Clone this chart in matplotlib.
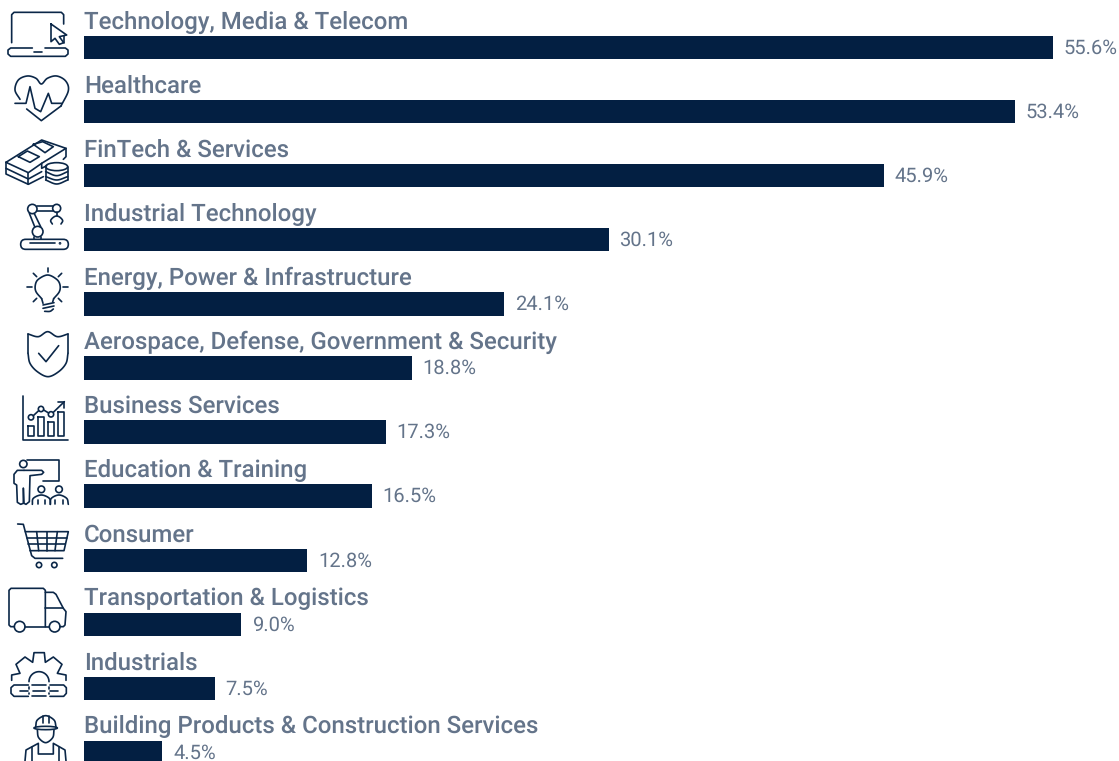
import numpy as np
import matplotlib
matplotlib.use("Agg")
import matplotlib.pyplot as plt
from matplotlib.patches import Circle, Ellipse, FancyBboxPatch

categories = ["Technology, Media & Telecom", "Healthcare", "FinTech & Services", "Industrial Technology",
              "Energy, Power & Infrastructure", "Aerospace, Defense, Government & Security", "Business Services",
              "Education & Training", "Consumer", "Transportation & Logistics", "Industrials",
              "Building Products & Construction Services"]
values = [55.6, 53.4, 45.9, 30.1, 24.1, 18.8, 17.3, 16.5, 12.8, 9.0, 7.5, 4.5]

plt.rcParams["text.hinting"] = "no_hinting"

W, H = 1119, 761
NAVY = "#031f42"
ICON = "#0b2748"
GREY = "#64748a"
FONT = "Roboto"

fig = plt.figure(figsize=(W / 100, H / 100), dpi=100, facecolor="white")
ax = fig.add_axes([0, 0, 1, 1])
ppu = 17.43
row = 64.09
y0 = 47.5
ax.set_xlim(-84 / ppu, (W - 84) / ppu)
ax.set_ylim((H - y0) / row, -y0 / row)
ax.axis("off")

ypos = np.arange(len(values))
ax.barh(ypos, values, height=23.3 / row, color=NAVY, linewidth=0)
for y, v, c in zip(ypos, values, categories):
    ax.text(0, y - 25.5 / row, c, fontsize=17.25, color=GREY, family=FONT, fontweight="medium", va="center", ha="left")
    ax.annotate(f"{v:.1f}%", (v, y), xytext=(7.8, -0.5), textcoords="offset points", fontsize=14.5, color=GREY,
                family=FONT, va="center", ha="left", annotation_clip=False)

# Decorative icons, drawn on an overlay in reference pixel coordinates
ov = fig.add_axes([0, 0, 1, 1], facecolor="none")
ov.set_xlim(0, W)
ov.set_ylim(H, 0)
ov.axis("off")
LW = 1.2


def smooth(p, n=12):
    p = np.array(p, float)
    q = np.vstack([2 * p[0] - p[1], p, 2 * p[-1] - p[-2]])
    out = []
    for i in range(1, len(q) - 2):
        for t in np.linspace(0, 1, n, endpoint=False):
            a, b, c, d = q[i - 1], q[i], q[i + 1], q[i + 2]
            out.append(0.5 * (2 * b + (c - a) * t + (2 * a - 5 * b + 4 * c - d) * t ** 2 + (3 * b - a - 3 * c + d) * t ** 3))
    out.append(p[-1])
    return np.array(out)


class Z:
    def __init__(self, oy):
        self.oy = oy

    def xy(self, p):
        p = np.array(p, float) / 3
        p[..., 1] += self.oy
        return p

    def l(self, *pts):
        p = self.xy(pts)
        ov.plot(p[:, 0], p[:, 1], color=ICON, lw=LW, solid_capstyle="round", solid_joinstyle="round", clip_on=False)

    def s(self, *pts):
        p = smooth(self.xy(pts))
        ov.plot(p[:, 0], p[:, 1], color=ICON, lw=LW, solid_capstyle="round", clip_on=False)

    def c(self, x, y, r):
        p = self.xy([x, y])
        ov.add_patch(Circle(p, r / 3, fill=False, ec=ICON, lw=LW, clip_on=False))

    def e(self, x, y, w, h):
        p = self.xy([x, y])
        ov.add_patch(Ellipse(p, w / 3, h / 3, fill=False, ec=ICON, lw=LW, clip_on=False))

    def arc(self, x, y, r, a0, a1):
        t = np.radians(np.linspace(a0, a1, 30))
        p = self.xy(np.c_[x + r * np.cos(t), y - r * np.sin(t)])
        ov.plot(p[:, 0], p[:, 1], color=ICON, lw=LW, solid_capstyle="round", clip_on=False)

    def pill(self, x0, y0, x1, y1, r):
        a = self.xy([x0 + r, y0 + r])
        b = self.xy([x1 - r, y1 - r])
        ov.add_patch(FancyBboxPatch(a, b[0] - a[0], b[1] - a[1], boxstyle=f"round,pad={r / 3}", fill=False,
                                    ec=ICON, lw=LW, clip_on=False))


# Laptop
z = Z(0)
z.l((35, 128), (35, 44), (42, 37), (184, 37), (191, 44), (191, 72))
z.l((191, 108), (191, 128))
z.l((97, 144), (32, 144), (24, 150), (24, 162), (32, 169), (196, 169), (204, 162), (204, 150), (196, 144), (135, 144))
z.l((102, 155), (126, 155))
z.l((153, 72), (200, 105), (178, 110), (191, 128), (178, 133), (165, 115), (153, 125), (153, 72))

# Heart
z.s((60, 298), (45, 270), (55, 240), (82, 228), (108, 235), (124, 252), (142, 235), (170, 228), (197, 243), (205, 272), (183, 318))
z.l((183, 318), (124, 362), (80, 327))
z.l((45, 310), (78, 310), (90, 260), (105, 325), (122, 335), (145, 280), (155, 310), (185, 310))

# Money stack
z.l((18, 487), (125, 420), (198, 445), (125, 490), (85, 518), (18, 487))
z.l((55, 470), (82, 453), (118, 470), (90, 487), (55, 470))
z.l((100, 433), (128, 425), (160, 440), (135, 458), (100, 433))
z.l((18, 487), (18, 505), (85, 537), (125, 515))
z.l((18, 505), (18, 522), (85, 553), (130, 530))
z.l((85, 518), (85, 553))
z.l((125, 490), (125, 505), (140, 497))
z.l((198, 445), (198, 470), (190, 478))
z.e(170, 500, 66, 24)
z.l((137, 500), (137, 540))
z.l((203, 500), (203, 540))
z.s((137, 515), (170, 527), (203, 515))
z.s((137, 530), (170, 540), (203, 530))
z.s((137, 540), (170, 552), (203, 540))

# Robot arm
z = Z(190)
z.pill(62, 148, 205, 178, 15)
z.l((90, 160), (165, 160))
z.c(180, 160, 1.5)
z.l((102, 142), (102, 148))
z.l((124, 142), (124, 148))
z.c(113, 125, 16)
z.c(97, 57, 14)
z.c(170, 55, 12)
z.l((88, 70), (104, 110))
z.l((103, 71), (122, 110))
z.l((110, 47), (158, 47))
z.l((110, 63), (158, 63))
z.l((170, 67), (170, 78))
z.s((157, 102), (152, 92), (160, 82), (170, 78), (180, 82), (188, 92), (183, 102))

# Light bulb
z.s((125, 326), (108, 305), (106, 285), (115, 268), (143, 255), (170, 268), (180, 285), (178, 305), (161, 326))
z.l((125, 326), (129, 340))
z.l((161, 326), (158, 336))
z.l((129, 345), (162, 338))
z.l((129, 355), (162, 348))
z.s((134, 364), (150, 364), (160, 357))
for r in [((143, 233), (143, 247)), ((100, 250), (110, 260)), ((185, 250), (175, 260)),
          ((82, 292), (96, 292)), ((190, 292), (204, 292)), ((100, 335), (110, 325)), ((185, 335), (175, 325))]:
    z.l(*r)

# Shield
z.l((84, 432), (84, 490))
z.s((84, 432), (115, 440), (143, 425), (172, 440), (204, 432))
z.l((204, 432), (204, 490))
z.s((84, 490), (90, 520), (112, 545), (144, 560), (176, 545), (198, 520), (204, 490))
z.l((116, 490), (138, 515), (176, 467))

# Business chart
z = Z(385)
z.l((70, 32), (70, 165), (205, 165))
for a, b, c in [(85, 122, 103), (115, 97, 133), (145, 110, 163), (175, 82, 193)]:
    z.l((a, b), (c, b), (c, 152), (a, 152), (a, b))
for p in [(93, 97), (123, 72), (153, 88)]:
    z.c(p[0], p[1], 8)
z.l((100, 92), (116, 77))
z.l((131, 75), (146, 84))
z.l((160, 82), (193, 50))
z.l((175, 50), (193, 50), (193, 68))

# Classroom
z.l((80, 225), (178, 225), (178, 288), (128, 288))
z.c(70, 237, 11)
z.l((72, 256), (125, 256), (131, 262), (125, 268), (90, 272), (88, 350), (78, 358), (72, 355), (70, 310))
z.l((70, 310), (70, 355), (62, 358), (52, 352), (50, 300), (42, 295), (42, 268), (52, 256), (72, 256))
z.c(124, 313, 10)
z.c(177, 313, 10)
z.s((97, 358), (100, 340), (124, 330), (148, 340), (151, 358))
z.s((151, 358), (154, 340), (177, 330), (200, 340), (205, 358))
z.l((113, 345), (113, 358))
z.l((135, 345), (135, 358))
z.l((165, 345), (165, 358))
z.l((190, 345), (190, 358))

# Cart
z.l((53, 417), (70, 418), (95, 512), (105, 520), (188, 520))
z.l((76, 440), (205, 440), (192, 497), (90, 497))
z.l((80, 458), (200, 458))
z.l((85, 477), (196, 477))
z.l((110, 440), (116, 497))
z.l((140, 440), (140, 497))
z.l((172, 440), (165, 497))
z.c(117, 540, 8)
z.c(163, 540, 8)

# Truck
z = Z(575)
z.l((43, 155), (32, 155), (27, 150), (27, 46), (33, 40), (130, 40), (136, 46), (136, 155))
z.l((75, 155), (148, 155))
z.l((136, 52), (160, 52), (168, 58), (190, 100), (198, 110), (195, 150), (190, 155), (180, 155))
z.l((136, 100), (190, 100))
z.c(59, 155, 16)
z.c(164, 155, 16)

# Gear and chain
z.l((35, 316), (35, 300), (60, 295), (48, 268), (75, 246), (98, 262), (102, 233), (133, 233), (136, 262),
    (160, 246), (186, 268), (172, 295), (198, 300), (198, 316))
z.arc(117, 320, 30, 0, 180)
z.l((85, 330), (42, 330), (33, 338), (33, 355), (42, 364), (85, 364))
z.l((60, 347), (84, 347))
z.l((96, 330), (138, 330))
z.l((96, 364), (138, 364))
z.l((100, 347), (135, 347))
z.l((88, 336), (88, 341))
z.l((88, 353), (88, 358))
z.l((146, 336), (146, 341))
z.l((146, 353), (146, 358))
z.l((150, 330), (191, 330), (199, 338), (199, 355), (191, 364), (150, 364))
z.l((150, 347), (175, 347))

# Construction worker
z.s((107, 455), (112, 435), (137, 422), (162, 435), (168, 455))
z.e(137, 459, 70, 10)
z.l((129, 424), (129, 445))
z.l((146, 424), (146, 445))
z.s((112, 465), (116, 488), (137, 503), (158, 488), (162, 465))
z.l((75, 558), (78, 525), (115, 505), (115, 537), (160, 537), (160, 505), (195, 525), (198, 558))
z.l((95, 516), (95, 558))
z.l((178, 516), (178, 558))

fig.savefig("out.png", dpi=100, facecolor="white")
